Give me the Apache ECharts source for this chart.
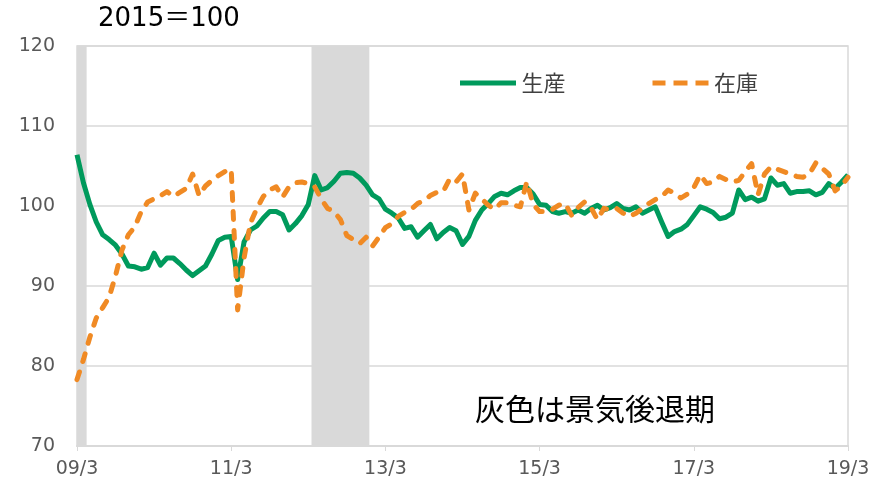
<!DOCTYPE html>
<html><head><meta charset="utf-8">
<script src="https://cdn.jsdelivr.net/npm/echarts@6/dist/echarts.min.js"></script>
<style>html,body{margin:0;padding:0;background:#fff}#c{width:891px;height:489px}</style>
</head><body><div id="c"></div>
<script>
// months 09/3 .. 19/3
const months = [];
for (let k = 0; k <= 120; k++) { const m = 2 + k; const y = 2009 + Math.floor(m / 12); months.push(String(y % 100).padStart(2, '0') + '/' + (m % 12 + 1)); }
const xTickLabels = ['09/3', '11/3', '13/3', '15/3', '17/3', '19/3'];
const yTicks = [70, 80, 90, 100, 110, 120];
const seriesNames = ['生産', '在庫'];
const production = [106.4,102.9,100.2,98.0,96.4,95.8,95.1,94.0,92.5,92.4,92.1,92.3,94.1,92.6,93.5,93.5,92.8,92.0,91.3,91.9,
92.5,94.0,95.7,96.1,96.2,90.8,95.5,97.0,97.5,98.5,99.3,99.3,98.9,97.0,97.8,98.8,100.2,103.8,102.0,102.3,
103.1,104.1,104.2,104.1,103.5,102.6,101.4,100.9,99.6,99.1,98.5,97.2,97.4,96.1,96.9,97.7,95.9,96.7,97.3,96.9,
95.2,96.2,98.2,99.5,100.3,101.2,101.6,101.4,101.9,102.3,102.3,101.5,100.2,100.1,99.3,99.1,99.3,99.1,99.5,99.1,
99.7,100.1,99.5,99.8,100.3,99.7,99.5,99.9,99.1,99.5,99.9,98.0,96.2,96.8,97.1,97.7,98.8,99.9,99.6,99.2,
98.4,98.6,99.1,102.0,100.8,101.1,100.6,100.9,103.5,102.6,102.8,101.6,101.8,101.8,101.9,101.4,101.7,102.8,102.2,103.0,
103.9];
const inventory = [78.3,80.8,83.6,86.0,87.3,88.6,91.3,94.5,96.4,97.4,99.3,100.5,100.9,101.3,101.8,101.2,101.7,102.2,104.0,101.3,
102.5,103.2,103.8,104.3,104.6,87.0,93.5,97.9,99.7,101.2,102.0,102.4,101.1,102.4,102.9,103.0,102.8,102.4,100.9,99.7,
99.3,98.3,96.3,95.8,95.3,96.1,95.0,96.1,97.3,97.8,98.7,99.2,99.6,100.3,100.7,101.3,101.7,101.8,103.4,103.0,
104.0,99.5,101.6,100.9,100.1,99.6,100.4,100.4,100.1,99.9,103.0,100.2,99.3,99.3,99.6,100.1,100.3,98.8,99.8,100.5,
99.8,98.3,99.7,99.5,99.7,99.1,98.7,99.1,99.7,100.3,100.8,101.2,102.0,101.6,101.0,101.5,102.3,103.9,102.8,103.0,
103.7,103.3,103.0,103.2,104.3,105.3,101.4,104.0,104.9,104.6,104.3,104.0,103.7,103.6,104.0,105.4,104.7,104.0,101.9,102.5,
103.6];
const recessions = [['09/3', '09/4'], ['12/4', '12/12']];

const idx = s => months.indexOf(s);
const bands = recessions.map(r => [{ xAxis: Math.max(0, idx(r[0]) - 0.5) }, { xAxis: Math.min(120, idx(r[1]) + 0.5) }]);
const pairs = arr => arr.map((v, i) => [i, v]);

const GREEN = '#009a5c', ORANGE = '#f08a24';
const chart = echarts.init(document.getElementById('c'), null, { renderer: 'canvas' });
chart.setOption({
  animation: false,
  textStyle: { fontFamily: 'DejaVu Sans, Noto Sans CJK JP' },
  grid: { left: 77, right: 43, top: 46, bottom: 43, show: true, borderColor: '#d9d9d9', borderWidth: 1.5, backgroundColor: 'transparent' },
  legend: {
    data: [
      { name: seriesNames[0], icon: 'path://M0,0h56v5h-56z' },
      { name: seriesNames[1], icon: 'path://M0,0h13v5h-13z M21,0h14v5h-14z M43,0h13v5h-13z' }
    ],
    left: 455, top: 67, itemWidth: 57, itemHeight: 5, itemGap: 87,
    textStyle: { fontSize: 22, color: '#404040', fontFamily: 'Noto Sans CJK JP' }
  },
  graphic: [
    { type: 'text', left: 98, top: 6, style: { text: '2015＝100', font: '26px "DejaVu Sans", "Noto Sans CJK JP"', fill: '#000' } },
    { type: 'text', left: 475, top: 394, style: { text: '灰色は景気後退期', font: '30px "Noto Sans CJK JP"', fill: '#000' } }
  ],
  xAxis: {
    type: 'value', min: 0, max: 120, interval: 24,
    axisLine: { show: true, lineStyle: { color: '#d9d9d9', width: 2 } },
    axisTick: { show: true, length: 5, lineStyle: { color: '#d9d9d9' } },
    splitLine: { show: false },
    axisLabel: { color: '#595959', fontSize: 19, margin: 14, formatter: v => xTickLabels[Math.round(v / 24)] }
  },
  yAxis: {
    type: 'value', min: 70, max: 120, interval: 10,
    axisLine: { show: false }, axisTick: { show: false },
    splitLine: { lineStyle: { color: '#d9d9d9', width: 1.5 } },
    axisLabel: { color: '#595959', fontSize: 19, margin: 22, formatter: v => yTicks.includes(v) ? String(v) : '' }
  },
  series: [
    {
      name: seriesNames[0], type: 'line', data: pairs(production), symbol: 'none', z: 3,
      lineStyle: { color: GREEN, width: 5, join: 'round' }, itemStyle: { color: GREEN },
      markArea: { silent: true, itemStyle: { color: '#d9d9d9' }, data: bands }
    },
    {
      name: seriesNames[1], type: 'line', data: pairs(inventory), symbol: 'none', z: 4,
      lineStyle: { color: ORANGE, width: 5, type: [8, 11], cap: 'round', join: 'round' }, itemStyle: { color: ORANGE }
    }
  ]
});
</script></body></html>
